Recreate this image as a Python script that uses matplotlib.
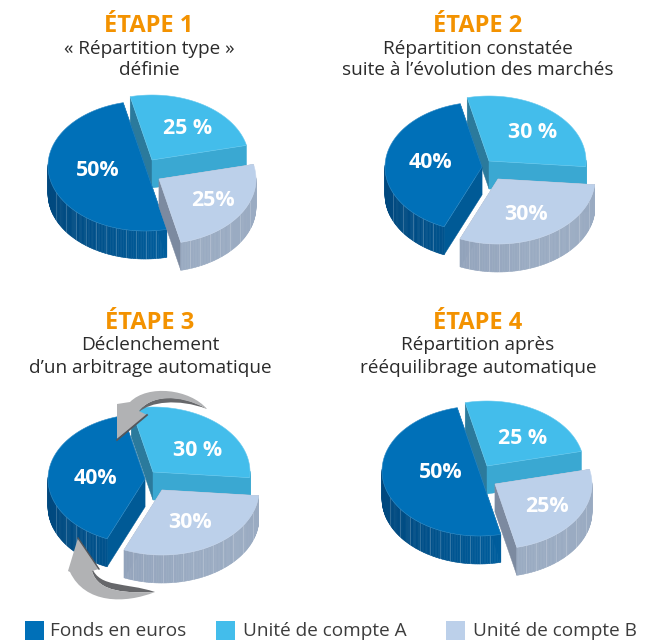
import numpy as np
import matplotlib
matplotlib.use("Agg")
import matplotlib.pyplot as plt
from matplotlib.patches import Polygon, PathPatch, Rectangle
from matplotlib.path import Path
from matplotlib.colors import to_rgb

# ---- data
series_names = ["Fonds en euros", "Unité de compte A", "Unité de compte B"]
etape_1 = [50, 25, 25]
etape_2 = [40, 30, 30]
etape_3 = [40, 30, 30]
etape_4 = [50, 25, 25]
panel_values = [etape_1, etape_2, etape_3, etape_4]
panel_titles = ["ÉTAPE 1", "ÉTAPE 2", "ÉTAPE 3", "ÉTAPE 4"]
panel_subtitles = [["« Répartition type »", "définie"],
                   ["Répartition constatée", "suite à l’évolution des marchés"],
                   ["Déclenchement", "d’un arbitrage automatique"],
                   ["Répartition après", "rééquilibrage automatique"]]
value_labels = [["50%", "25 %", "25%"], ["40%", "30 %", "30%"],
                ["40%", "30 %", "30%"], ["50%", "25 %", "25%"]]

# ---- layout (pixels)
W, H = 657, 641
title_x = [149, 478, 150, 478]
title_y = [[26, 49, 70], [26, 49, 70], [323, 345, 368], [323, 345, 368]]
# centre of each exploded slice, order: euros, A, B
centres = [[(145, 166), (152, 160), (159, 179)],
           [(482, 167), (489, 161), (498, 179)],
           [(145, 479), (153, 472), (162, 490)],
           [(479, 471), (487, 466), (495, 484)]]
label_pos = [[(98, 171), (188, 128), (213, 200)],
             [(430, 162), (533, 132), (526, 214)],
             [(95, 478), (198, 450), (190, 522)],
             [(441, 473), (523, 438), (547, 506)]]
RX, RY, DEPTH = 97, 65, 28
START = 103.0
DRAW_ORDER = [1, 0, 2]
GRID_STEP = 10

top_col = ["#0070b8", "#43bdeb", "#bcd0ea"]
start_face = ["#005a96", "#2b7a9c", "#8a98ae"]
end_face = ["#005a96", "#3aa8d2", "#7c8aa0"]
side_left = ["#00487e", "#3aa8d2", "#8f9fb8"]
side_right = ["#005f9f", "#3aa8d2", "#9aabc2"]

ORANGE = "#f39200"
TEXT = "#2b2b2b"
plt.rcParams["font.family"] = ["Open Sans", "DejaVu Sans"]

fig = plt.figure(figsize=(W / 100, H / 100), dpi=100)
ax = fig.add_axes([0, 0, 1, 1])
ax.set_xlim(0, W)
ax.set_ylim(H, 0)
ax.axis("off")


def rim(c, theta):
    t = np.radians(theta)
    return np.column_stack([c[0] + RX * np.cos(t), c[1] - RY * np.sin(t)])


def mix(a, b, f):
    a, b = np.array(to_rgb(a)), np.array(to_rgb(b))
    return tuple(a + (b - a) * f)


def draw_slice(c, t0, t1, k):
    """Slice running clockwise from angle t0 to angle t1 (t1 < t0)."""
    down = np.array([0, DEPTH])
    cxy = np.array(c, float)
    p0, p1 = rim(c, [t0])[0], rim(c, [t1])[0]
    ax.add_patch(Polygon([cxy, p0, p0 + down, cxy + down], fc=start_face[k], ec=start_face[k], lw=.3, zorder=1))
    ax.add_patch(Polygon([cxy, p1, p1 + down, cxy + down], fc=end_face[k], ec=end_face[k], lw=.3, zorder=1))
    # outer wall, only the part that faces the viewer
    ths = np.linspace(t0, t1, int(abs(t0 - t1)) + 2)
    for a, b in zip(ths[:-1], ths[1:]):
        if np.sin(np.radians((a + b) / 2)) > 0.02:
            continue
        q = rim(c, [a, b])
        f = np.clip((np.cos(np.radians((a + b) / 2)) + 1) / 1.3, 0, 1)
        col = mix(side_left[k], side_right[k], f)
        ax.add_patch(Polygon([q[0], q[1], q[1] + down, q[0] + down], fc=col, ec=col, lw=.4, zorder=1))
    # thin wall rules, evenly spaced across the page
    for dx in np.arange(-RX + 8, RX, GRID_STEP):
        tt = -np.degrees(np.arccos(dx / RX))
        if t1 + 1 < tt < t0 - 1:
            q = rim(c, [tt])[0]
            ax.plot([q[0], q[0]], [q[1], q[1] + DEPTH], color="white", alpha=.22, lw=.6, zorder=1)
    # top face
    arc = rim(c, ths)
    ax.add_patch(Polygon(np.vstack([cxy, arc]), fc=top_col[k],
                         ec=mix(top_col[k], "#ffffff", .18), lw=.4, zorder=1))


def draw_pie(values, centre_list):
    total = float(sum(values))
    spans = [v / total * 360 for v in values]
    # clockwise from START: A, then B, then euros
    a_end = START - spans[1]
    b_end = a_end - spans[2]
    e_end = b_end - spans[0]
    ranges = {1: (START, a_end), 2: (a_end, b_end), 0: (b_end, e_end)}
    for k in DRAW_ORDER:
        t0, t1 = ranges[k]
        draw_slice(centre_list[k], t0, t1, k)


for i, vals in enumerate(panel_values):
    draw_pie(vals, centres[i])
    ax.text(title_x[i], title_y[i][0], panel_titles[i], color=ORANGE, fontsize=17,
            fontweight="bold", ha="center", va="center")
    for j, line in enumerate(panel_subtitles[i]):
        ax.text(title_x[i], title_y[i][j + 1], line, color=TEXT, fontsize=13.7,
                ha="center", va="center")
    for j, lab in enumerate(value_labels[i]):
        ax.text(*label_pos[i][j], lab, color="white", fontsize=15.4, fontweight="bold",
                ha="center", va="center", zorder=5)

# rebalancing arrows on panel 3
M, C4, L = Path.MOVETO, Path.CURVE4, Path.LINETO
ARROW, ARROW_DK = "#b1b2b4", "#66676a"
dark1 = Path([(139, 412), (150, 402), (178, 398), (207, 409), (178, 392), (150, 396), (139, 411)],
             [M, C4, C4, C4, C4, C4, C4])
ax.add_patch(PathPatch(dark1, fc=ARROW_DK, ec="none", zorder=6))
head1 = Path([(207, 409), (190, 389), (148, 384), (130, 402), (117, 404), (117, 439), (147, 415),
              (139, 411), (150, 396), (178, 393), (207, 409)],
             [M, C4, C4, C4, L, L, L, L, C4, C4, C4])
ax.add_patch(PathPatch(head1, fc=ARROW, ec="none", zorder=7))
ax.plot([147, 117], [415, 440], color="#55565a", lw=1.3, zorder=7)
dark2 = Path([(92, 568), (100, 588), (125, 582), (155, 592), (128, 593), (98, 593), (92, 571)],
             [M, C4, C4, C4, C4, C4, C4])
ax.add_patch(PathPatch(dark2, fc=ARROW_DK, ec="none", zorder=6))
head2 = Path([(155, 592), (125, 604), (85, 604), (70, 572), (68, 571), (78, 538), (99, 569),
              (92, 571), (98, 593), (128, 593), (155, 592)],
             [M, C4, C4, C4, L, L, L, L, C4, C4, C4])
ax.add_patch(PathPatch(head2, fc=ARROW, ec="none", zorder=7))
ax.plot([78, 99], [538, 569], color="#55565a", lw=1.0, zorder=7)

# legend
leg_box_x = [25, 216, 446]
leg_text_x = [50, 243, 473]
for k, name in enumerate(series_names):
    ax.add_patch(Rectangle((leg_box_x[k], 621), 19, 19, fc=top_col[k], ec="none"))
    ax.text(leg_text_x[k], 631, name, color="#3c3c3c", fontsize=13.7, ha="left", va="center")

fig.savefig("out.png", dpi=100)
